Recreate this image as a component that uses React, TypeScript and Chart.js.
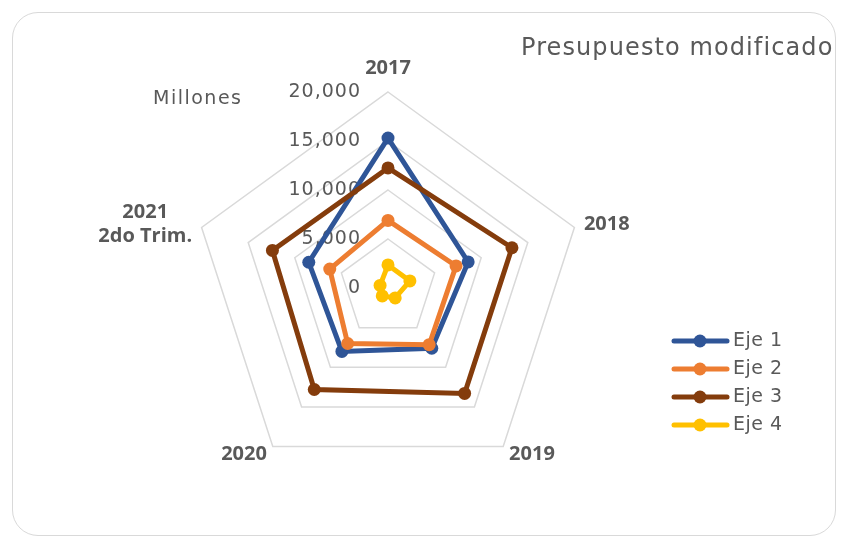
import React, { useEffect, useRef } from "react";
import { Chart, registerables } from "chart.js";

Chart.register(...registerables);

const CATEGORIES: (string | string[])[] = ["2017", "2018", "2019", "2020", ["2021", "2do Trim."]];
const SERIES_NAMES = ["Eje 1", "Eje 2", "Eje 3", "Eje 4"];
const EJE1 = [15300, 8600, 7600, 8000, 8500];
const EJE2 = [6900, 7300, 7150, 7000, 6250];
const EJE3 = [12250, 13300, 13300, 12800, 12400];
const EJE4 = [2350, 2350, 1250, 1000, 850];
const COLORS = ["#2F5597", "#ED7D31", "#843C0C", "#FFC000"];
const TICK_VALUES = [0, 5000, 10000, 15000, 20000];
const TICK_LABELS = ["0", "5,000", "10,000", "15,000", "20,000"];
const TITLE = "Presupuesto modificado";
const UNIT_LABEL = "Millones";

const FONT = "'DejaVu Sans', sans-serif";
const BOLD_FONT = "'Open Sans', sans-serif";
const TEXT_COLOR = "#595959";

const overlayPlugin = {
  id: "overlay",
  beforeDatasetsDraw(chart: any) {
    const ctx = chart.ctx;
    const r = chart.scales.r;
    ctx.save();
    ctx.fillStyle = TEXT_COLOR;
    ctx.font = `19px ${FONT}`;
    (ctx as any).letterSpacing = "1px";
    ctx.textAlign = "right";
    ctx.textBaseline = "middle";
    TICK_VALUES.forEach((v, i) => {
      const y = r.yCenter - r.getDistanceFromCenterForValue(v);
      ctx.fillText(TICK_LABELS[i], r.xCenter - 27, y);
    });
    ctx.restore();
  },
  afterDraw(chart: any) {
    const ctx = chart.ctx;
    const r = chart.scales.r;
    ctx.save();
    ctx.fillStyle = TEXT_COLOR;
    // point labels
    ctx.font = `bold 20px ${BOLD_FONT}`;
    (ctx as any).letterSpacing = "0px";
    CATEGORIES.forEach((lab, i) => {
      const base = r.getPointPosition(i, r.drawingArea);
      const dx = base.x - r.xCenter;
      const isTop = Math.abs(dx) < 2 && base.y < r.yCenter;
      const p = r.getPointPosition(i, r.drawingArea + (isTop ? 24 : 10));
      const lines = Array.isArray(lab) ? lab : [lab];
      const maxW = Math.max(...lines.map((t) => ctx.measureText(t).width));
      let cx = p.x;
      if (Math.abs(dx) >= 2) cx = dx > 0 ? p.x + maxW / 2 : p.x - maxW / 2;
      ctx.textAlign = "center";
      ctx.textBaseline = "middle";
      const lh = 24;
      lines.forEach((t, k) => {
        ctx.fillText(t, cx, p.y + (k - (lines.length - 1) / 2) * lh);
      });
    });
    // title
    ctx.font = `24px ${FONT}`;
    (ctx as any).letterSpacing = "1.1px";
    ctx.textAlign = "left";
    ctx.textBaseline = "middle";
    ctx.fillText(TITLE, 521, 49);
    // unit label
    ctx.font = `19px ${FONT}`;
    (ctx as any).letterSpacing = "1.5px";
    ctx.textAlign = "left";
    ctx.fillText(UNIT_LABEL, 153, 99);
    // legend
    (ctx as any).letterSpacing = "0.5px";
    chart.data.datasets.forEach((ds: any, i: number) => {
      const y = 341 + 28 * i;
      ctx.strokeStyle = ds.borderColor;
      ctx.lineWidth = 5;
      ctx.lineCap = "round";
      ctx.beginPath();
      ctx.moveTo(674, y);
      ctx.lineTo(727, y);
      ctx.stroke();
      ctx.fillStyle = ds.borderColor;
      ctx.beginPath();
      ctx.arc(700, y, 6.5, 0, Math.PI * 2);
      ctx.fill();
      ctx.fillStyle = TEXT_COLOR;
      ctx.font = `19px ${FONT}`;
      ctx.textAlign = "left";
      ctx.textBaseline = "middle";
      ctx.fillText(ds.label, 733, y);
    });
    ctx.restore();
  },
};

export default function App() {
  const ref = useRef<HTMLCanvasElement | null>(null);
  useEffect(() => {
    if (!ref.current) return;
    const seriesData = [EJE1, EJE2, EJE3, EJE4];
    const chart = new Chart(ref.current, {
      type: "radar",
      data: {
        labels: CATEGORIES as any,
        datasets: seriesData.map((d, i) => ({
          label: SERIES_NAMES[i],
          data: d,
          borderColor: COLORS[i],
          backgroundColor: COLORS[i],
          pointBackgroundColor: COLORS[i],
          pointBorderColor: COLORS[i],
          borderWidth: 5,
          pointRadius: 6.5,
          pointBorderWidth: 0,
          fill: false,
          tension: 0,
          order: 4 - i,
        })),
      },
      options: {
        responsive: false,
        animation: false,
        devicePixelRatio: 1,
        layout: { padding: { left: 192, top: 92, right: 259, bottom: 57 } },
        plugins: {
          legend: { display: false },
          title: { display: false },
          tooltip: { enabled: false },
        },
        scales: {
          r: {
            min: 0,
            max: 20000,
            ticks: { stepSize: 5000, display: false },
            grid: { color: "#D9D9D9", lineWidth: 1.5 },
            angleLines: { display: false },
            pointLabels: { display: false },
          },
        },
      },
      plugins: [overlayPlugin],
    });
    return () => chart.destroy();
  }, []);
  return (
    <div style={{ position: "fixed", left: 0, top: 0, width: 843, height: 541, background: "#fff" }}>
      <div
        style={{
          position: "absolute",
          left: 12,
          top: 12,
          width: 824,
          height: 524,
          border: "1.5px solid #D9D9D9",
          borderRadius: 26,
          boxSizing: "border-box",
        }}
      />
      <canvas ref={ref} width={843} height={541} style={{ position: "absolute", left: 0, top: 0 }} />
    </div>
  );
}
